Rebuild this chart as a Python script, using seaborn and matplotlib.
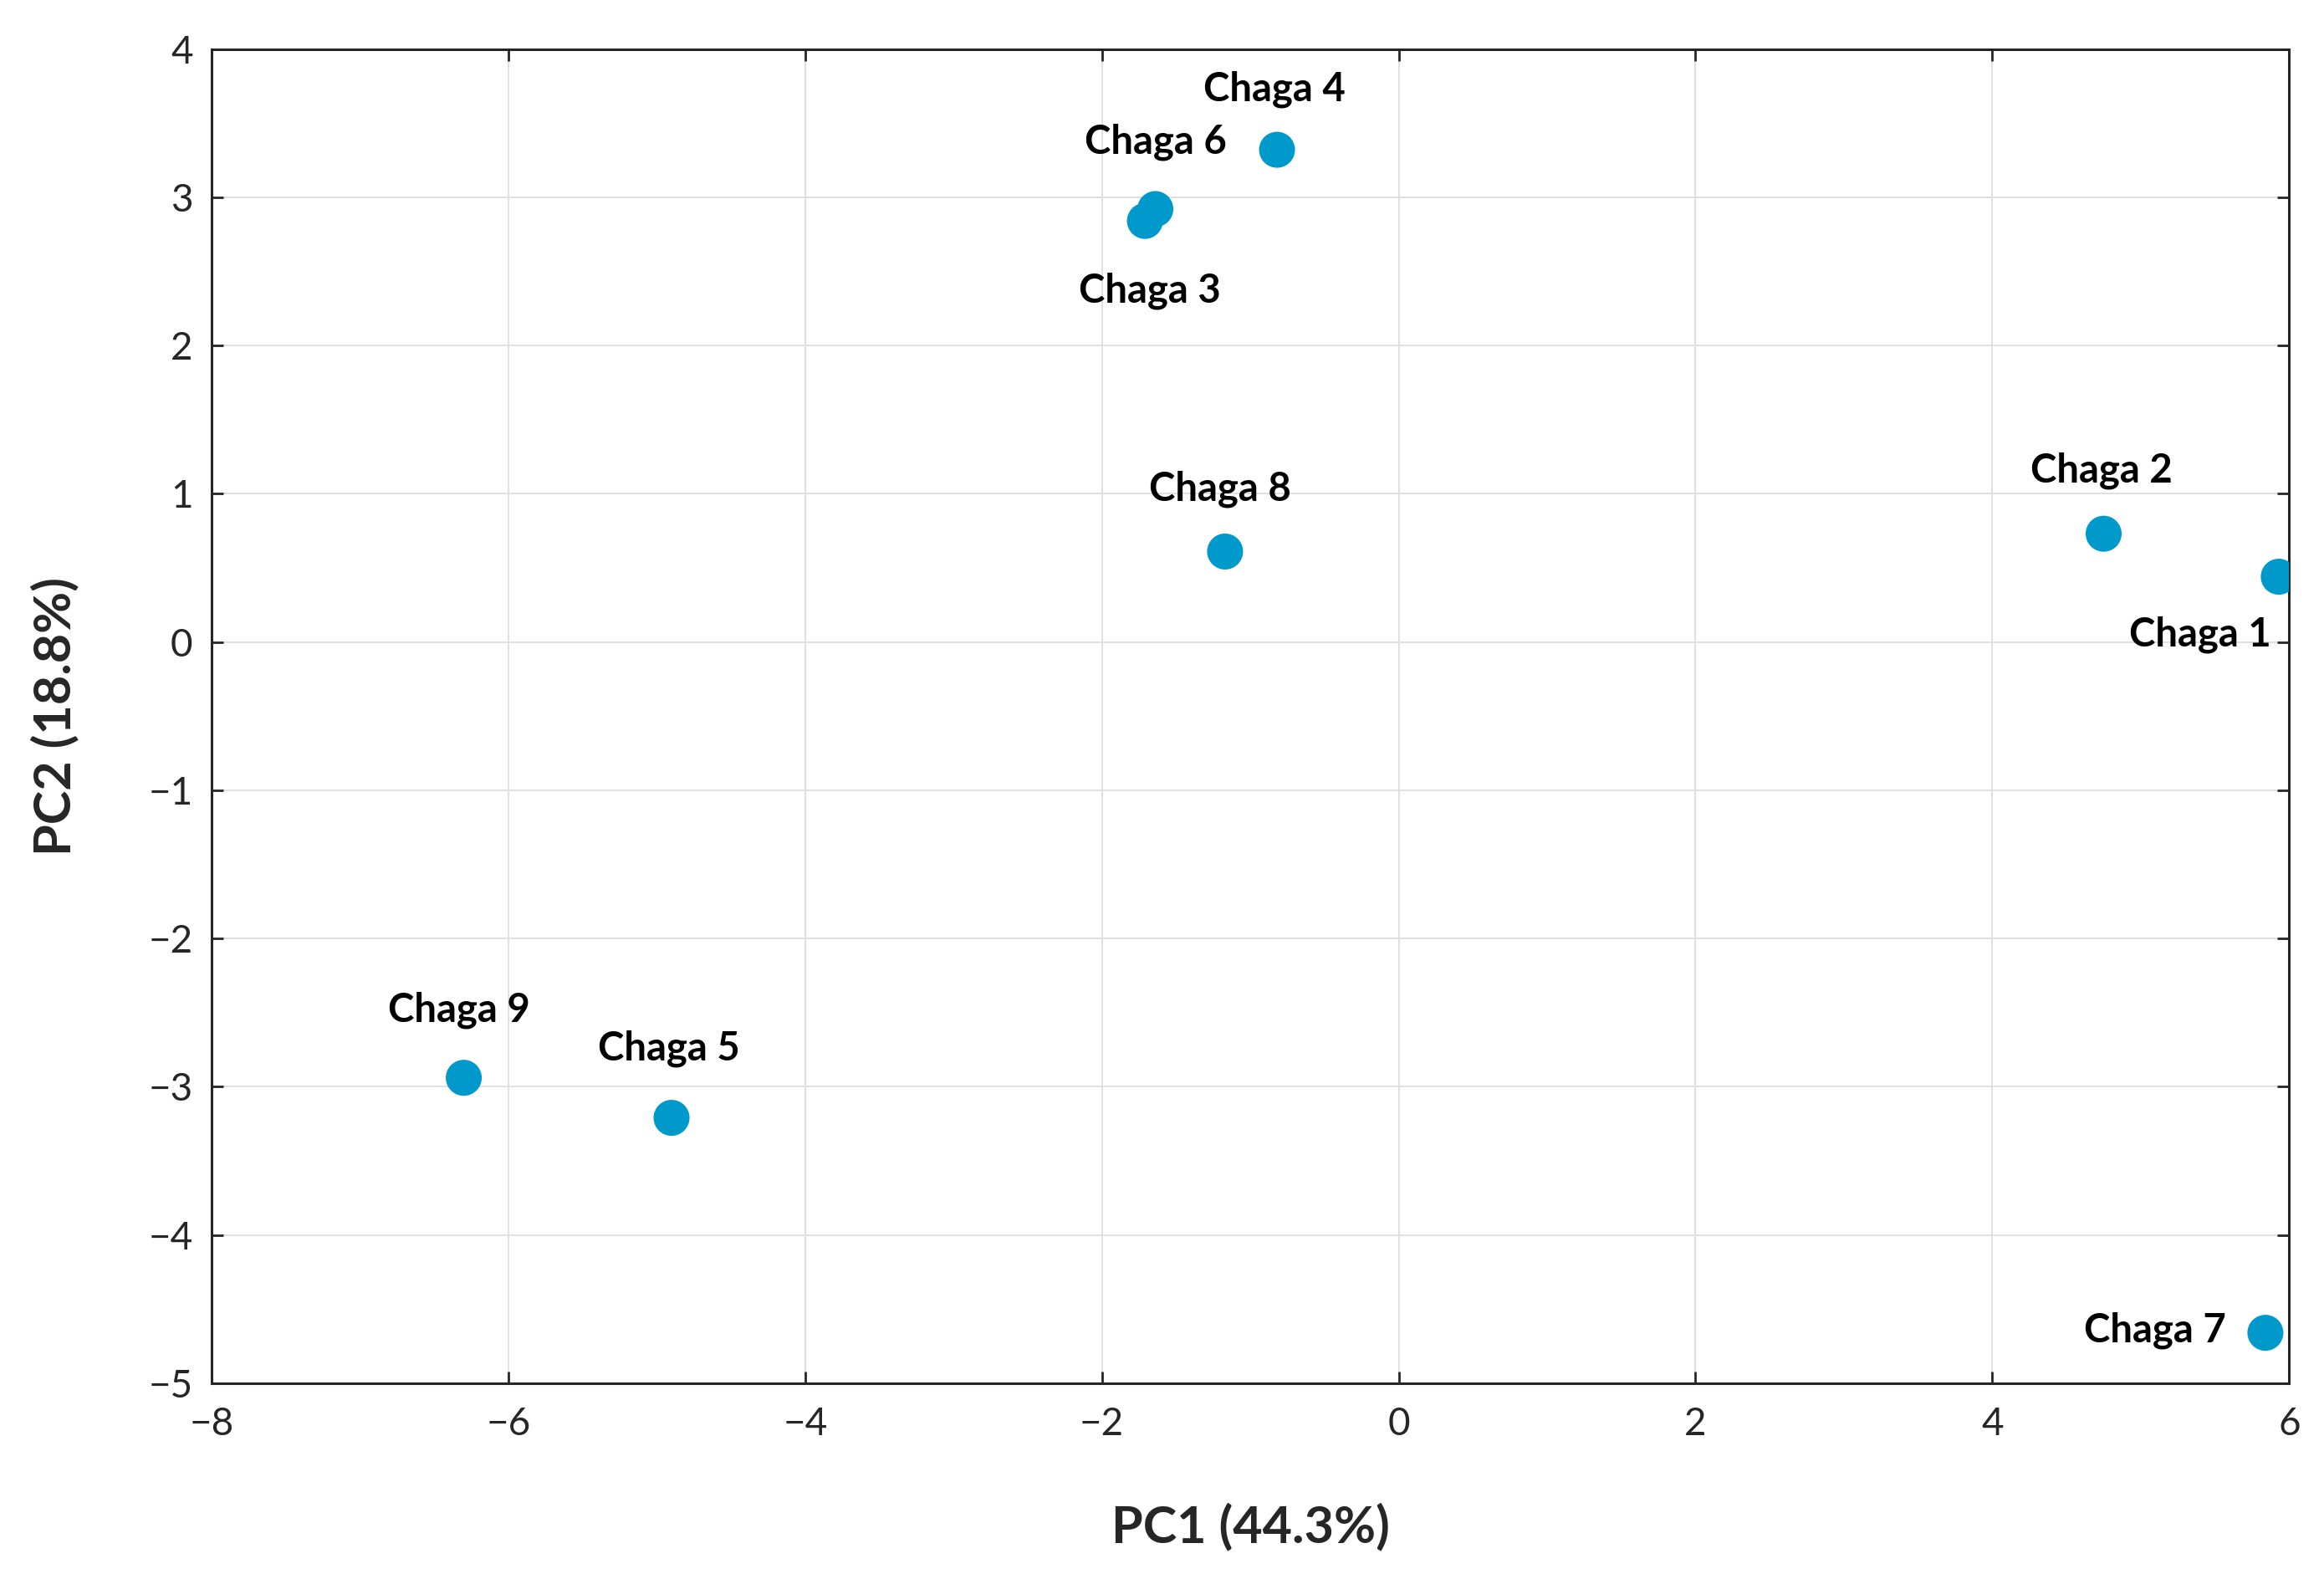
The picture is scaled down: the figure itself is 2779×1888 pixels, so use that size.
import numpy as np
import pandas as pd
import matplotlib.pyplot as plt
import seaborn as sns

samples = ['Chaga 1', 'Chaga 2', 'Chaga 3', 'Chaga 4', 'Chaga 5',
           'Chaga 6', 'Chaga 7', 'Chaga 8', 'Chaga 9']
pc1 = [5.93, 4.75, -1.71, -0.82, -4.90, -1.64, 5.84, -1.17, -6.30]
pc2 = [0.44, 0.73, 2.84, 3.32, -3.21, 2.92, -4.66, 0.61, -2.94]

# label offsets (points) for each sample
offsets = {'Chaga 1': (-34, -25), 'Chaga 2': (-1, 27), 'Chaga 3': (2, -30),
           'Chaga 4': (-1, 26), 'Chaga 5': (-1, 30), 'Chaga 6': (0, 29),
           'Chaga 7': (-17, 1), 'Chaga 8': (-2, 27), 'Chaga 9': (-2, 29)}
align = {'Chaga 7': 'right'}

df = pd.DataFrame({'sample': samples, 'PC1': pc1, 'PC2': pc2})

sns.set_theme(style='whitegrid')
plt.rcParams['font.family'] = ['Lato', 'DejaVu Sans']

fig = plt.figure(figsize=(13.895, 9.44), dpi=200)
ax = fig.add_axes([0.091, 0.124, 0.894, 0.845])

sns.scatterplot(data=df, x='PC1', y='PC2', ax=ax, s=240, color='#0099CC',
                edgecolor='none', zorder=3)

for name, x, y in zip(samples, pc1, pc2):
    dx, dy = offsets[name]
    ax.annotate(name, (x, y), xytext=(dx, dy), textcoords='offset points',
                ha=align.get(name, 'center'), va='center', fontsize=17,
                fontweight='bold', color='black', zorder=4)

ax.set_xlim(-8, 6)
ax.set_ylim(-5, 4)
ax.set_xticks(np.arange(-8, 7, 2))
ax.set_yticks(np.arange(-5, 5, 1))
ax.grid(True, color='#e0e0e0', linewidth=0.7)
ax.set_facecolor('white')
for sp in ax.spines.values():
    sp.set_visible(True)
    sp.set_color('#262626')
    sp.set_linewidth(1.1)
ax.tick_params(direction='in', length=5, width=1, color='#262626',
               top=True, right=True, bottom=True, left=True,
               labelsize=16.5, labelcolor='#262626')
ax.tick_params(axis='x', pad=10)
ax.tick_params(axis='y', pad=8)

ax.set_xlabel('PC1 (44.3%)', fontsize=22, fontweight='bold', color='#262626', labelpad=26)
ax.set_ylabel('PC2 (18.8%)', fontsize=22, fontweight='bold', color='#262626', labelpad=30)

fig.savefig('out.png', dpi=200)
